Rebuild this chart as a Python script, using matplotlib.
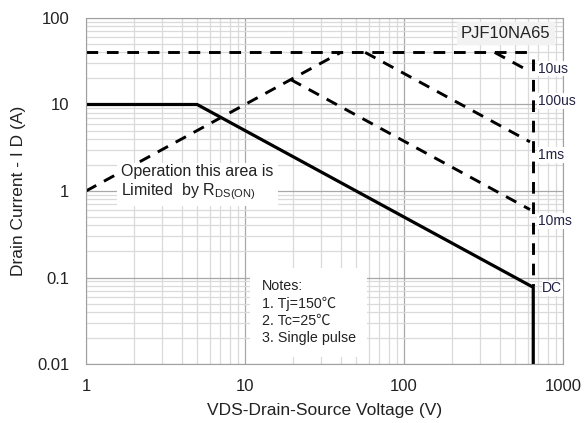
import matplotlib
matplotlib.use('Agg')
import matplotlib.pyplot as plt
from matplotlib.ticker import LogLocator, FixedLocator, NullFormatter

plt.rcParams['font.family'] = ['Liberation Sans', 'DejaVu Sans']

# DC curve (solid)
dc_v = [1, 5, 650, 650]
dc_i = [10, 10, 0.077, 0.01]
# RDS(on) limit (dashed)
rds_v = [1, 40]
rds_i = [1, 40]
# pulse limits (dashed)
top_v = [1, 620]
top_i = [40, 40]
us10_v = [372, 620]
us10_i = [40, 24]
us100_v = [57, 620]
us100_i = [40, 3.7]
ms1_v = [19.4, 620]
ms1_i = [19.4, 0.61]
bv_v = [650, 650]
bv_i = [34, 0.08]

x_ticks = [1, 10, 100, 1000]
x_ticklabels = ['1', '10', '100', '1000']
y_ticks = [0.01, 0.1, 1, 10, 100]
y_ticklabels = ['0.01', '0.1', '1', '10', '100']

curve_labels = ['10us', '100us', '1ms', '10ms', 'DC']
label_i = [26, 11, 2.6, 0.45, 0.075]

fig = plt.figure(figsize=(5.86, 4.23), dpi=100)
ax = fig.add_axes([86/586, 1-364/423, (563-86)/586, (364-18)/423])
ax.set_xscale('log')
ax.set_yscale('log')
ax.set_xlim(1, 1000)
ax.set_ylim(0.01, 100)

ax.xaxis.set_minor_locator(LogLocator(base=10, subs=range(2, 10)))
ax.yaxis.set_minor_locator(LogLocator(base=10, subs=range(2, 10)))
ax.xaxis.set_minor_formatter(NullFormatter())
ax.yaxis.set_minor_formatter(NullFormatter())
ax.xaxis.set_major_locator(FixedLocator(x_ticks))
ax.yaxis.set_major_locator(FixedLocator(y_ticks))
ax.set_xticklabels(x_ticklabels)
ax.set_yticklabels(y_ticklabels)
ax.grid(True, which='minor', color='#dadada', lw=0.9)
ax.grid(True, which='major', color='#a8a8a8', lw=0.9)
ax.tick_params(which='both', length=0, labelsize=12, colors='#222222')
ax.tick_params(axis='x', pad=11)
ax.tick_params(axis='y', pad=12)
for s in ax.spines.values():
    s.set_color('#a0a0a0')
ax.set_axisbelow(True)

dash = dict(color='black', lw=2.1, ls=(0, (4, 3)), solid_capstyle='butt')
ax.plot(top_v, top_i, **dash)
ax.plot(rds_v, rds_i, **dash)
ax.plot(us10_v, us10_i, **dash)
ax.plot(us100_v, us100_i, **dash)
ax.plot(ms1_v, ms1_i, **dash)
ax.plot(bv_v, bv_i, **dash)
ax.plot(dc_v, dc_i, color='black', lw=2.3)

for lab, yi in zip(curve_labels, label_i):
    xo = 740 if lab == 'DC' else 695
    ax.text(xo, yi, lab, fontsize=10, color='#222244', va='center', ha='left',
            bbox=dict(fc='white', ec='none', pad=0.5))

ax.text(0.88, 0.955, 'PJF10NA65', transform=ax.transAxes, fontsize=12,
        color='#222222', ha='center', va='center',
        bbox=dict(fc='#f2f2f2', ec='none', pad=3))

ax.text(1.66, 1.24, 'Operation this area is\nLimited  by R$_{\\mathregular{DS(ON)}}$',
        fontsize=11.5, color='#222222', ha='left', va='center', linespacing=1.2,
        bbox=dict(fc='white', ec='none', pad=3))

ax.text(0.368, 0.245, 'Notes:\n1. Tj=150\u2103\n2. Tc=25\u2103\n3. Single pulse',
        transform=ax.transAxes, fontsize=10.3, color='#222222', ha='left', va='top',
        linespacing=1.3, family=['Liberation Sans', 'Noto Sans CJK SC', 'DejaVu Sans'],
        bbox=dict(fc='white', ec='none', pad=8))

ax.set_xlabel('VDS-Drain-Source Voltage (V)', fontsize=12.5, color='#222222', labelpad=6)
ax.set_ylabel('Drain Current - I D (A)', fontsize=12.5, color='#222222', labelpad=8)

fig.savefig('out.png', dpi=100)
